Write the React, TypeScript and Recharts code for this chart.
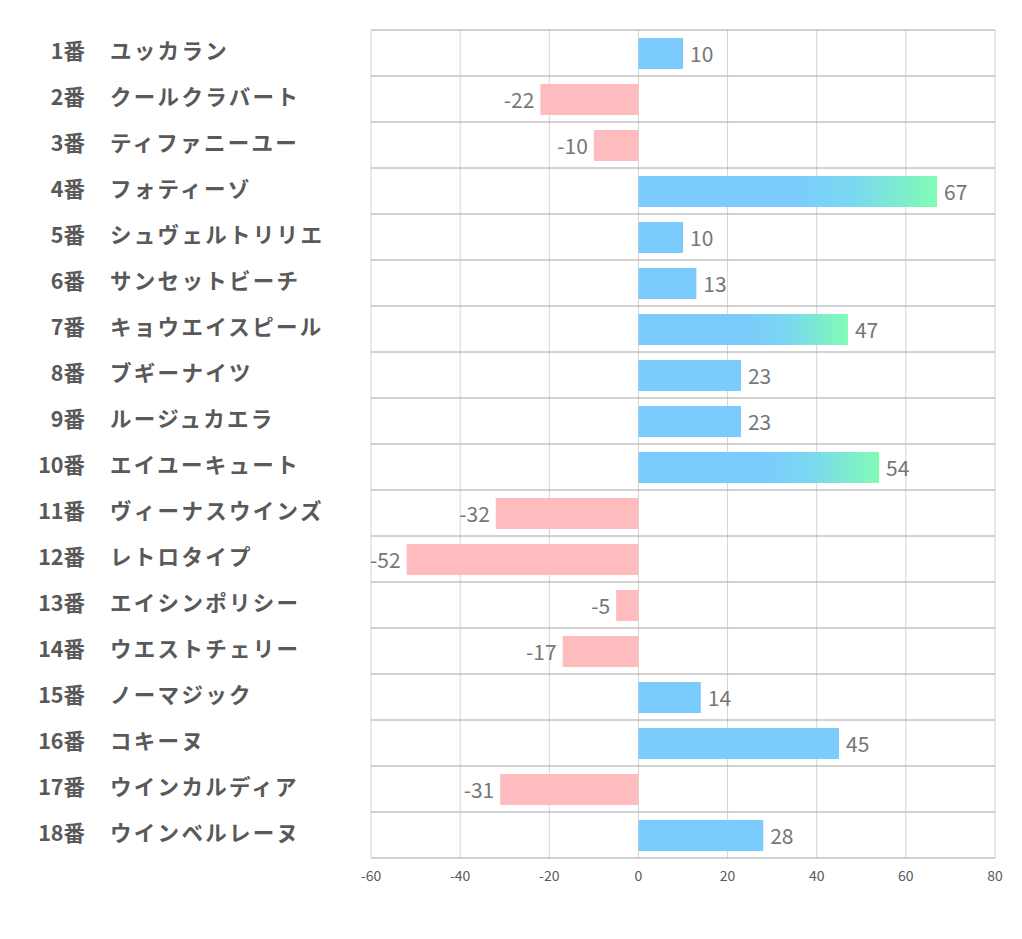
import React from 'react';
import { BarChart, Bar, XAxis, YAxis, CartesianGrid, Cell, LabelList } from 'recharts';

const numbers = ['1番', '2番', '3番', '4番', '5番', '6番', '7番', '8番', '9番', '10番', '11番', '12番', '13番', '14番', '15番', '16番', '17番', '18番'];
const horses = [
  'ユッカラン', 'クールクラバート', 'ティファニーユー', 'フォティーゾ', 'シュヴェルトリリエ', 'サンセットビーチ',
  'キョウエイスピール', 'ブギーナイツ', 'ルージュカエラ', 'エイユーキュート', 'ヴィーナスウインズ', 'レトロタイプ',
  'エイシンポリシー', 'ウエストチェリー', 'ノーマジック', 'コキーヌ', 'ウインカルディア', 'ウインベルレーヌ',
];
const scores = [10, -22, -10, 67, 10, 13, 47, 23, 23, 54, -32, -52, -5, -17, 14, 45, -31, 28];
const xTicks = [-60, -40, -20, 0, 20, 40, 60, 80];
const highlightAbove = 46;

const data = scores.map((v, i) => ({ key: String(i), num: numbers[i], name: horses[i], value: v }));

const FONT = '"Noto Sans CJK JP", "Noto Sans", sans-serif';

const CategoryTick = (props: any) => {
  const { y, payload } = props;
  const row = data[payload.index] ?? data[Number(payload.value)];
  return (
    <g>
      <text x={85} y={y} dy={6} textAnchor="end" fontSize={21.5} fontWeight="bold" fill="#595959" fontFamily={FONT}>
        {row.num}
      </text>
      <text x={110} y={y} dy={6} textAnchor="start" fontSize={21.5} fontWeight="bold" fill="#595959" fontFamily={FONT} letterSpacing={2.3}>
        {row.name}
      </text>
    </g>
  );
};

const ValueTick = (props: any) => {
  const { x, y, payload } = props;
  return (
    <text x={x} y={y} dy={13} textAnchor="middle" fontSize={14} fill="#595959" fontFamily={FONT}>
      {payload.value}
    </text>
  );
};

const ValueLabel = (props: any) => {
  const { x, y, width, height, value } = props;
  const left = Math.min(x, x + width);
  const right = Math.max(x, x + width);
  const cy = y + height / 2;
  const neg = value < 0;
  return (
    <text
      x={neg ? left - 6 : right + 7}
      y={cy}
      dy={8}
      textAnchor={neg ? 'end' : 'start'}
      fontSize={21}
      fill="#767676"
      fontFamily={FONT}
    >
      {value}
    </text>
  );
};

export default function App() {
  return (
    <div style={{ position: 'absolute', left: 0, top: 0, background: '#fff' }}>
      <BarChart
        width={1022}
        height={939}
        data={data}
        layout="vertical"
        margin={{ top: 30, right: 27, bottom: 51, left: 0 }}
        barSize={31}
      >
        <defs>
          <linearGradient id="hiGrad" x1="0" y1="0" x2="1" y2="0">
            <stop offset="0%" stopColor="#7BCBFD" />
            <stop offset="50%" stopColor="#7BCBFD" />
            <stop offset="72%" stopColor="#7AD8F0" />
            <stop offset="100%" stopColor="#80FCB4" />
          </linearGradient>
        </defs>
        <CartesianGrid horizontal={false} stroke="#D4D4D4" strokeWidth={1} />
        <CartesianGrid
          vertical={false}
          stroke="#A6A6A6"
          strokeWidth={1}
          horizontalCoordinatesGenerator={({ offset }: any) =>
            Array.from({ length: data.length + 1 }, (_, i) => offset.top + (offset.height * i) / data.length)
          }
        />
        <XAxis
          type="number"
          domain={[-60, 80]}
          ticks={xTicks}
          axisLine={false}
          tickLine={false}
          tick={<ValueTick />}
          height={30}
          tickMargin={4}
        />
        <YAxis
          type="category"
          dataKey="key"
          width={371}
          axisLine={false}
          tickLine={false}
          interval={0}
          tick={<CategoryTick />}
        />
        <Bar dataKey="value" isAnimationActive={false}>
          {data.map((d) => (
            <Cell
              key={d.key}
              fill={d.value < 0 ? '#FFBCBF' : d.value > highlightAbove ? 'url(#hiGrad)' : '#7BCBFD'}
            />
          ))}
          <LabelList dataKey="value" content={<ValueLabel />} />
        </Bar>
      </BarChart>
    </div>
  );
}
